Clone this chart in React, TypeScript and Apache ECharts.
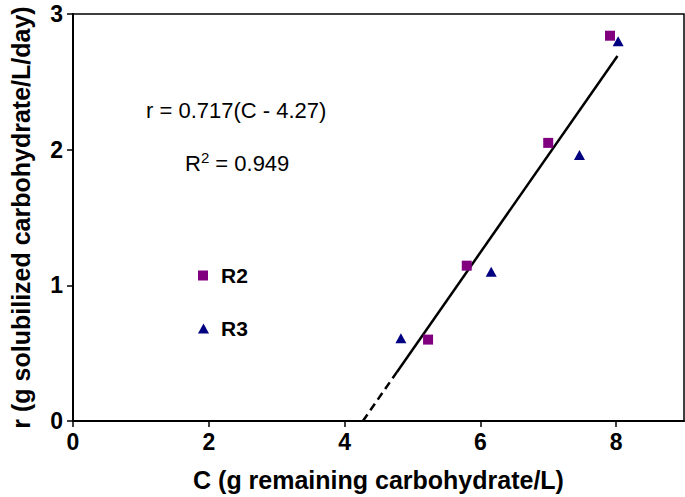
import React, { useEffect, useRef } from 'react';
import * as echarts from 'echarts';

// Data
const r2Data: number[][] = [[5.23, 0.6], [5.8, 1.145], [7.0, 2.05], [7.91, 2.84]];
const r3Data: number[][] = [[4.83, 0.61], [6.16, 1.1], [7.46, 1.96], [8.03, 2.8]];
const fitSolid: number[][] = [[4.77, 0.36], [8.02, 2.69]];
const fitDashed: number[][] = [[4.27, 0], [4.77, 0.36]];
const xTicks = [0, 2, 4, 6, 8];
const yTicks = [0, 1, 2, 3];
const equationText = 'r = 0.717(C - 4.27)';
const rSquaredValue = '0.949';
const xTitle = 'C (g remaining carbohydrate/L)';
const yTitle = 'r (g solubilized carbohydrate/L/day)';

const FONT = '"Liberation Sans", Arial, Helvetica, sans-serif';

export default function App() {
  const ref = useRef<HTMLDivElement>(null);
  useEffect(() => {
    if (!ref.current) return;
    const chart = echarts.init(ref.current, undefined, { renderer: 'svg' });
    chart.setOption({
      animation: false,
      backgroundColor: '#fff',
      textStyle: { fontFamily: FONT },
      grid: {
        left: 69, top: 14, right: 1, bottom: 74,
        show: true, borderColor: '#000', borderWidth: 1.5, backgroundColor: 'transparent',
      },
      xAxis: {
        type: 'value', min: 0, max: 9, interval: 2,
        name: xTitle, nameLocation: 'middle', nameGap: 46,
        nameTextStyle: { fontFamily: FONT, fontWeight: 'bold', fontSize: 25, color: '#000' },
        axisLine: { show: true, onZero: false, lineStyle: { color: '#000', width: 2 } },
        axisTick: { show: true, inside: false, length: 6, customValues: xTicks, lineStyle: { color: '#000', width: 1.5 } },
        axisLabel: { customValues: xTicks, margin: 9, fontFamily: FONT, fontWeight: 'bold', fontSize: 23, color: '#000' },
        splitLine: { show: false },
      },
      yAxis: {
        type: 'value', min: 0, max: 3, interval: 1,
        name: yTitle, nameLocation: 'middle', nameGap: 40,
        nameTextStyle: { fontFamily: FONT, fontWeight: 'bold', fontSize: 25, color: '#000' },
        axisLine: { show: true, onZero: false, lineStyle: { color: '#000', width: 2 } },
        axisTick: { show: true, inside: false, length: 6, customValues: yTicks, lineStyle: { color: '#000', width: 1.5 } },
        axisLabel: { customValues: yTicks, margin: 10, fontFamily: FONT, fontWeight: 'bold', fontSize: 23, color: '#000' },
        splitLine: { show: false },
      },
      legend: [
        {
          data: ['R2'], left: 198, top: 265, padding: 0, itemWidth: 10, itemHeight: 10,
          selectedMode: false,
          textStyle: { fontFamily: FONT, fontWeight: 'bold', fontSize: 21, color: '#000', padding: [0, 0, 0, 8] },
        },
        {
          data: ['R3'], left: 198, top: 318, padding: 0, itemWidth: 11, itemHeight: 10,
          selectedMode: false,
          textStyle: { fontFamily: FONT, fontWeight: 'bold', fontSize: 21, color: '#000', padding: [0, 0, 0, 7] },
        },
      ],
      graphic: [
        {
          type: 'text', left: 146, top: 99,
          style: { text: equationText, fontFamily: FONT, fontSize: 22, fill: '#000' },
        },
        {
          type: 'text', left: 185, top: 150,
          style: {
            text: '{a|R}{s|2}{a| = ' + rSquaredValue + '}',
            rich: {
              a: { fontFamily: FONT, fontSize: 22, fill: '#000', color: '#000', lineHeight: 26 },
              s: { fontFamily: FONT, fontSize: 15, fill: '#000', color: '#000', verticalAlign: 'top', lineHeight: 16 },
            },
          },
        },
      ],
      series: [
        {
          name: 'fitDashed', type: 'line', data: fitDashed, symbol: 'none', silent: true,
          lineStyle: { color: '#000', width: 2.5, type: [8, 5] },
        },
        {
          name: 'fitSolid', type: 'line', data: fitSolid, symbol: 'none', silent: true,
          lineStyle: { color: '#000', width: 2.5, type: 'solid' },
        },
        {
          name: 'R2', type: 'scatter', data: r2Data, symbol: 'rect', symbolSize: 10,
          itemStyle: { color: '#800080', opacity: 1 }, z: 5,
        },
        {
          name: 'R3', type: 'scatter', data: r3Data, symbol: 'triangle', symbolSize: [11, 10],
          itemStyle: { color: '#000080', opacity: 1 }, z: 5,
        },
      ],
    });
    return () => chart.dispose();
  }, []);
  return (
    <div
      ref={ref}
      style={{ position: 'fixed', left: 0, top: 0, width: 685, height: 497, background: '#fff' }}
    />
  );
}
